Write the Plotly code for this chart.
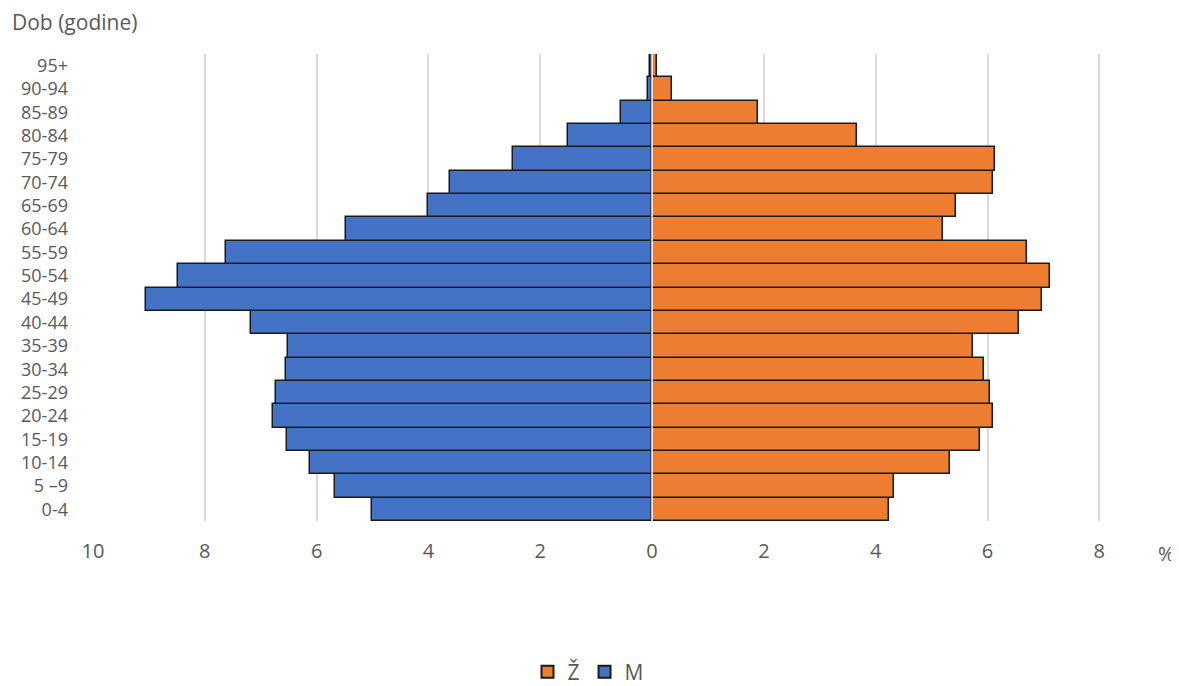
import plotly.graph_objects as go

ages = ["0-4", "5 \u20139", "10-14", "15-19", "20-24", "25-29", "30-34", "35-39", "40-44",
        "45-49", "50-54", "55-59", "60-64", "65-69", "70-74", "75-79", "80-84", "85-89",
        "90-94", "95+"]
male = [5.01, 5.67, 6.12, 6.53, 6.78, 6.73, 6.55, 6.51, 7.17,
        9.05, 8.48, 7.62, 5.47, 4.00, 3.61, 2.49, 1.50, 0.55, 0.07, 0.04]
female = [4.24, 4.33, 5.33, 5.87, 6.10, 6.05, 5.94, 5.74, 6.57,
          6.98, 7.12, 6.71, 5.20, 5.44, 6.10, 6.14, 3.67, 1.90, 0.36, 0.09]
tick_vals = [-10, -8, -6, -4, -2, 0, 2, 4, 6, 8]
tick_text = ["10", "8", "6", "4", "2", "0", "2", "4", "6", "8"]

FONT = "Open Sans"
GRAY = "#595959"
OFF = 8  # page body margin offset
W, H = 1179 - OFF, 686 - OFF
ml = 93 - OFF
mt = 54 - OFF
mb = H - (521 - OFF)
mr = W - (1172 - OFF)

def px(xp):
    return (xp - OFF - ml) / (W - ml - mr)

def py(yp):
    ph = H - mt - mb
    return 1 - (yp - OFF - mt) / ph

fig = go.Figure()
fig.add_trace(go.Bar(
    y=ages, x=female, orientation="h", name="\u017d",
    marker=dict(color="#ED7D31", line=dict(color="#1a1a1a", width=1.5)),
    hovertemplate="%{y}: %{x}%<extra>\u017d</extra>"))
fig.add_trace(go.Bar(
    y=ages, x=[-v for v in male], orientation="h", name="M", customdata=male,
    marker=dict(color="#4472C4", line=dict(color="#1a1a1a", width=1.5)),
    hovertemplate="%{y}: %{customdata}%<extra>M</extra>"))

fig.add_shape(type="line", xref="x", yref="paper", x0=0, x1=0, y0=0, y1=1,
              line=dict(color="white", width=1.5), layer="above")

fig.add_annotation(text="Dob (godine)", xref="paper", yref="paper",
                   x=px(10), y=py(22), xanchor="left", yanchor="middle",
                   showarrow=False, font=dict(family=FONT, size=21, color=GRAY))
fig.add_annotation(text="%", xref="paper", yref="paper",
                   x=px(1166), y=py(553), xanchor="center", yanchor="middle",
                   showarrow=False, font=dict(family=FONT, size=20, color=GRAY))

fig.update_layout(
    width=W, height=H,
    margin=dict(l=ml, r=mr, t=mt, b=mb, autoexpand=False),
    barmode="relative", bargap=0,
    plot_bgcolor="white", paper_bgcolor="white",
    font=dict(family=FONT, color=GRAY),
    showlegend=True,
    legend=dict(orientation="h", x=px(588), xanchor="center",
                y=py(672), yanchor="middle",
                font=dict(family=FONT, size=21, color=GRAY),
                itemsizing="constant", traceorder="normal", itemwidth=30),
)
fig.update_xaxes(range=[-10, 9.3], tickvals=tick_vals, ticktext=tick_text,
                 showgrid=True, gridcolor="#d9d9d9", gridwidth=1.5,
                 zeroline=False, showline=False, ticks="", automargin=False,
                 tickfont=dict(family=FONT, size=20, color=GRAY),
                 ticklabelstandoff=16)
fig.update_yaxes(range=[-0.5, 19.5], showgrid=False, zeroline=False, showline=False,
                 ticks="", automargin=False, tickfont=dict(family=FONT, size=18, color=GRAY),
                 tickmode="array", tickvals=ages, ticktext=ages,
                 ticklabelstandoff=24, categoryorder="array", categoryarray=ages)

fig.write_html("out.html")
